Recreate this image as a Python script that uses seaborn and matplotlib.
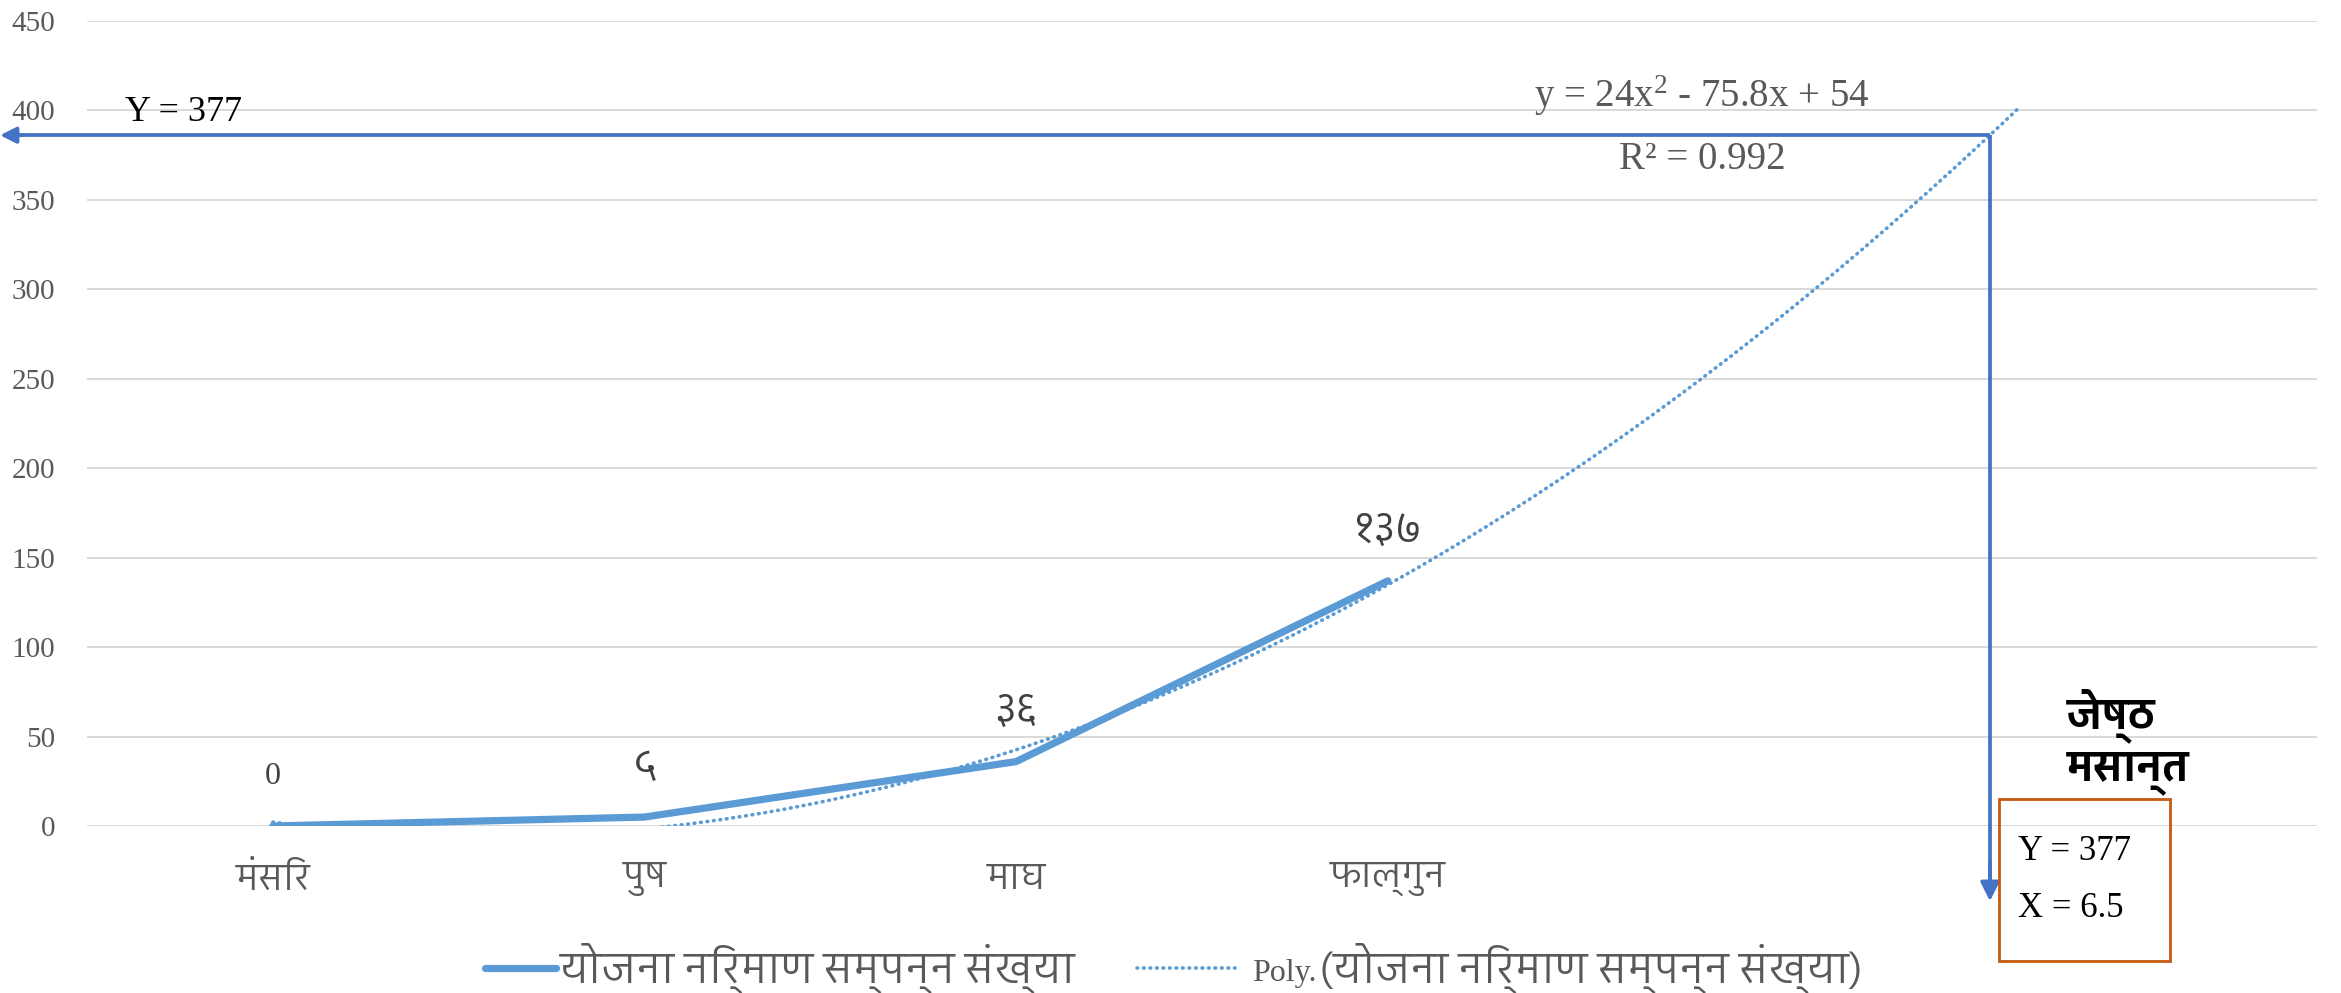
import numpy as np
import pandas as pd
import matplotlib
matplotlib.use("Agg")
import matplotlib.pyplot as plt
import seaborn as sns
from matplotlib import font_manager
from matplotlib.patches import Rectangle
from matplotlib.lines import Line2D
from matplotlib.legend_handler import HandlerLine2D
import matplotlib.transforms as mtransforms

# ---------------- data ----------------
categories = ["मंसिर", "पुष", "माघ", "फाल्गुन"]
values = [0, 5, 36, 137]
data_labels = ["0", "५", "३६", "१३७"]
series_name = "योजना निर्माण सम्पन्न संख्या"
trend_prefix = "Poly."
trend_name = "(योजना निर्माण सम्पन्न संख्या)"
trend_forward = 1.7
y_ticks = [0, 50, 100, 150, 200, 250, 300, 350, 400, 450]
eq_text = "y = 24x$^2$ - 75.8x + 54"
r2_text = "R² = 0.992"
marker_y_drawn = 386
marker_x_drawn = 4.62
target_label = "Y = 377"
box_lines = ["Y = 377", "X = 6.5"]
month_text = "जेष्ठ\nमसान्त"

# ---------------- fonts ----------------
def find_font(ch):
    try:
        from fontTools.ttLib import TTFont
    except Exception:
        return None
    cands = []
    for f in font_manager.fontManager.ttflist:
        try:
            tt = TTFont(f.fname, fontNumber=0, lazy=True)
            cmap = tt.getBestCmap()
            if cmap and ord(ch) in cmap:
                cands.append(f)
        except Exception:
            continue
    if not cands:
        return None
    cands.sort(key=lambda f: (0 if "Devanagari" in f.name else 1,
                              0 if f.weight in (400, "normal", "regular") else 1))
    return cands[0].name

deva = find_font("य")
deva_family = [deva, "DejaVu Sans"] if deva else ["DejaVu Sans"]
serif_family = ["Liberation Serif", "DejaVu Serif"]

sns.set_theme(style="white")
plt.rcParams["font.family"] = deva_family
plt.rcParams["mathtext.fontset"] = "custom"
plt.rcParams["mathtext.rm"] = "Liberation Serif"
plt.rcParams["mathtext.it"] = "Liberation Serif"

W, H = 2341, 993
fig = plt.figure(figsize=(W / 100, H / 100), dpi=100)
ax = fig.add_axes([87 / W, 1 - 826 / H, (2317 - 87) / W, (826 - 20.7) / H])

x = np.arange(len(categories))
df = pd.DataFrame({"x": x, "y": values})

line_col = "#5B9BD5"
arrow_col = "#4472C4"

# trendline fitted from the data (polynomial order 2), forward forecast
coef = np.polyfit(x + 1, values, 2)
xt = np.linspace(0, len(categories) - 1 + trend_forward, 300)
tdf = pd.DataFrame({"x": xt, "y": np.polyval(coef, xt + 1)})

dot_style = (0, (0.2, 1.6))
sns.lineplot(data=df, x="x", y="y", ax=ax, color=line_col, lw=5.2,
             solid_capstyle="round", zorder=3)
sns.lineplot(data=tdf, x="x", y="y", ax=ax, color=line_col, lw=2.6,
             linestyle=dot_style, dash_capstyle="round", zorder=4)

ax.set_xlim(-0.5, 5.5)
ax.set_ylim(0, 450)
ax.set_yticks(y_ticks)
ax.set_yticklabels([str(t) for t in y_ticks], family=serif_family,
                   fontsize=21, color="#595959")
ax.set_xticks(x)
ax.set_xticklabels(categories, family=deva_family, fontsize=26, color="#595959")
ax.tick_params(axis="y", length=0, pad=23)
ax.tick_params(axis="x", length=0, pad=26)
ax.set_xlabel("")
ax.set_ylabel("")
for s in ax.spines.values():
    s.set_visible(False)
ax.yaxis.grid(True, color="#D9D9D9", lw=1.4)
ax.xaxis.grid(False)
ax.set_axisbelow(True)

# data labels
for xi, yi, lab in zip(x, values, data_labels):
    if lab.isascii():
        fam, fs = serif_family, 23
    else:
        fam, fs = deva_family, 30
    ax.annotate(lab, (xi, yi), xytext=(0, 36), textcoords="offset points",
                ha="center", va="center", fontsize=fs, color="#404040",
                family=fam)

# equation texts
ax.text(3.845, 402, eq_text, ha="center", va="baseline", fontsize=28,
        color="#595959", family=serif_family)
ax.text(3.845, 367, r2_text, ha="center", va="baseline", fontsize=28,
        color="#595959", family=serif_family)

# arrows
blend = mtransforms.blended_transform_factory(ax.transAxes, ax.transData)
ax.plot([marker_x_drawn, marker_x_drawn], [marker_y_drawn, -30],
        color=arrow_col, lw=2.7, clip_on=False, zorder=5,
        solid_capstyle="butt")
ax.annotate("", xy=(marker_x_drawn, -42), xytext=(marker_x_drawn, -20),
            xycoords="data", textcoords="data",
            arrowprops=dict(arrowstyle="-|>", color=arrow_col, lw=2.7,
                            mutation_scale=28, shrinkA=0, shrinkB=0),
            annotation_clip=False)
x_tip = -87 / 2230
fx = (marker_x_drawn + 0.5) / 6.0
ax.plot([x_tip + 0.008, fx], [marker_y_drawn, marker_y_drawn],
        color=arrow_col, lw=2.7, clip_on=False, zorder=5,
        solid_capstyle="butt", transform=blend)
ax.annotate("", xy=(x_tip, marker_y_drawn), xytext=(x_tip + 0.01, marker_y_drawn),
            xycoords=blend, textcoords=blend,
            arrowprops=dict(arrowstyle="-|>", color=arrow_col, lw=2.7,
                            mutation_scale=24, shrinkA=0, shrinkB=0),
            annotation_clip=False)

ax.text(-0.5 + (125 - 87) / 2230 * 6, 394, target_label, ha="left",
        va="baseline", fontsize=26, color="black", family=serif_family)

# right-side annotation
fig.text(2067 / W, 1 - 688 / H, month_text, ha="left", va="top",
         fontsize=30, color="black", family=deva_family, linespacing=1.15,
         fontweight="bold")
fig.patches.append(Rectangle((1999 / W, 1 - 961 / H), (2170 - 1999) / W,
                             (961 - 799) / H, transform=fig.transFigure,
                             fill=False, edgecolor="#C55A11", lw=2))
fig.text(2018 / W, 1 - 860 / H, box_lines[0], ha="left", va="baseline",
         fontsize=25, color="black", family=serif_family)
fig.text(2018 / W, 1 - 917 / H, box_lines[1], ha="left", va="baseline",
         fontsize=25, color="black", family=serif_family)


# legend: handle box is wide; each handle is drawn on a segment of it
class SegmentHandler(HandlerLine2D):
    def __init__(self, start, end, **kw):
        super().__init__(**kw)
        self.seg = (start, end)

    def create_artists(self, legend, orig_handle, xdescent, ydescent,
                       width, height, fontsize, trans):
        xdata = np.array([-xdescent + self.seg[0] * width,
                          -xdescent + self.seg[1] * width])
        ydata = np.full(2, (height - ydescent) / 2)
        line = Line2D(xdata, ydata)
        self.update_prop(line, orig_handle, legend)
        line.set_transform(trans)
        return [line]


handle_len = 4.2
h1 = Line2D([], [], color=line_col, lw=5.2, solid_capstyle="round")
h2 = Line2D([], [], color=line_col, lw=2.6, linestyle=dot_style,
            dash_capstyle="round")
leg = fig.legend([h1, h2], [series_name, trend_name], loc="center",
                 bbox_to_anchor=(0.5 - 50 / W, 1 - 968 / H), ncol=2,
                 frameon=False, fontsize=30.5, handlelength=handle_len,
                 handletextpad=0.1, columnspacing=1.45,
                 handler_map={h1: SegmentHandler(0.6, 1.0),
                              h2: SegmentHandler(0.0, 0.55)})
for t in leg.get_texts():
    t.set_color("#595959")
    t.set_family(deva_family)

fig.canvas.draw()
renderer = fig.canvas.get_renderer()
bb = leg.get_texts()[1].get_window_extent(renderer)
bbf = bb.transformed(fig.transFigure.inverted())
fig.text(bbf.x0 - 3 / W, bbf.y0 + 12 / H, trend_prefix, ha="right",
         va="baseline", fontsize=23, color="#595959", family=serif_family)

fig.savefig("out.png", dpi=100)
